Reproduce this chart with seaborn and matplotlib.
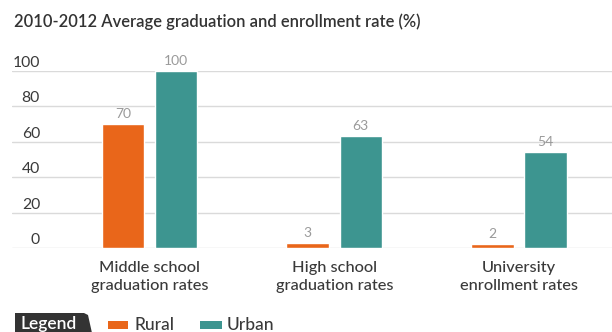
import matplotlib
matplotlib.use("Agg")
import matplotlib.pyplot as plt
import matplotlib.transforms as mtransforms
from matplotlib.patches import Polygon, Rectangle
import seaborn as sns
import pandas as pd

# ---- data ----
categories = ["Middle school\ngraduation rates", "High school\ngraduation rates", "University\nenrollment rates"]
rural = [70, 3, 2]
urban = [100, 63, 54]
series_names = ["Rural", "Urban"]
yticks = [0, 20, 40, 60, 80, 100]
title = "2010-2012 Average graduation and enrollment rate (%)"

colors = {"Rural": "#E9661A", "Urban": "#3D9590"}

df = pd.DataFrame({
    "category": categories * 2,
    "group": ["Rural"] * 3 + ["Urban"] * 3,
    "value": rural + urban,
})

sns.set_theme(style="white")
plt.rcParams["font.family"] = ["Lato", "DejaVu Sans"]

W, H = 612, 332
fig = plt.figure(figsize=(W / 100, H / 100), dpi=100)
ax = fig.add_axes([12 / W, 1 - 248 / H, 1 - 12 / W, (248 - 70.7) / H])

sns.barplot(data=df, x="category", y="value", hue="group", order=categories,
            hue_order=series_names, palette=colors, width=0.575, gap=0.2,
            saturation=1, legend=False, ax=ax)

ax.set_xlim(-0.745, 2.504)
ax.set_ylim(0, 100)
ax.set_yticks(yticks)
ax.set_xlabel("")
ax.set_ylabel("")
for s in ax.spines.values():
    s.set_visible(False)
ax.grid(axis="y", color="#DADADA", linewidth=1)
ax.set_axisbelow(True)
ax.tick_params(axis="y", length=0, pad=0, labelsize=11.3, labelcolor="#3A3A3A")
ax.tick_params(axis="x", length=0, pad=9.5, labelsize=11.8, labelcolor="#3A3A3A")
for lab in ax.get_xticklabels():
    lab.set_linespacing(1.35)
    lab.set_fontweight("medium")

offset = mtransforms.ScaledTranslation(28 / 100, 9.5 / 100, fig.dpi_scale_trans)
for lab in ax.get_yticklabels():
    lab.set_transform(lab.get_transform() + offset)
    lab.set_ha("right")

for cont, vals in zip(ax.containers, [rural, urban]):
    texts = ax.bar_label(cont, labels=[str(v) for v in vals], padding=3,
                         color="#9A9A9A", fontsize=10)
    for t in texts:
        t.set_clip_on(False)

# overlay for title and legend
ov = fig.add_axes([0, 0, 1, 1], zorder=-1)
ov.set_xlim(0, W)
ov.set_ylim(H, 0)
ov.axis("off")

ov.text(14, 22, title, fontsize=11.9, color="#333333", va="center", ha="left",
        fontweight="semibold")

ov.add_patch(Polygon([(15, 333), (15, 313), (84, 313), (88, 315), (92, 333)],
                     closed=True, facecolor="#333333", edgecolor="none"))
ov.text(20, 324, "Legend", color="white", fontsize=12.5, va="center",
        ha="left", fontweight="semibold")

ov.add_patch(Rectangle((108, 321), 20, 7.5, facecolor=colors["Rural"], edgecolor="none"))
ov.text(135, 324.5, "Rural", color="#3A3A3A", fontsize=12.5, va="center", ha="left",
        fontweight="medium")
ov.add_patch(Rectangle((200, 321), 22, 7.5, facecolor=colors["Urban"], edgecolor="none"))
ov.text(227, 324.5, "Urban", color="#3A3A3A", fontsize=12.5, va="center", ha="left",
        fontweight="medium")

fig.savefig("out.png", dpi=100)
